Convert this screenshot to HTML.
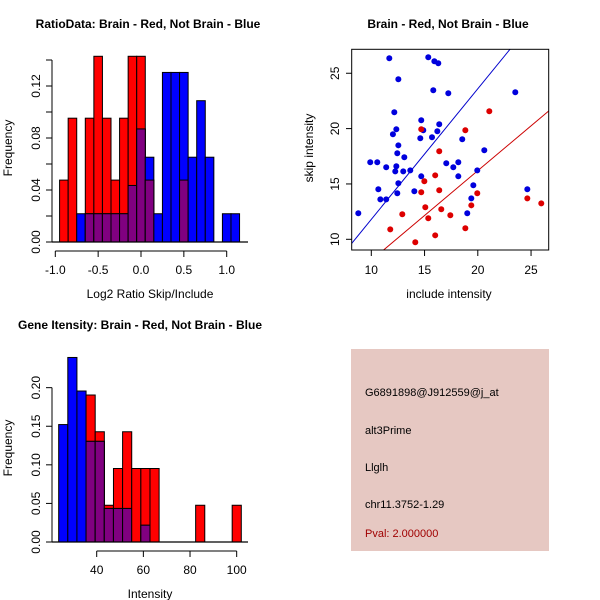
<!DOCTYPE html>
<html><head><meta charset="utf-8"><style>
body{margin:0;background:#fff}
svg{display:block;font-family:"Liberation Sans",Arial,sans-serif}
</style></head><body>
<svg id="s" width="600" height="600" viewBox="0 0 600 600">
<rect width="600" height="600" fill="#fff"/>
<g>
<rect x="351" y="349" width="198" height="202" fill="#e6c8c2"/>
<text x="365" y="396" font-size="11">G6891898@J912559@j_at</text>
<text x="365" y="434" font-size="11">alt3Prime</text>
<text x="365" y="471" font-size="11">Llglh</text>
<text x="365" y="508" font-size="11">chr11.3752-1.29</text>
<text x="365" y="537" font-size="11" fill="#a00000">Pval: 2.000000</text>
</g>
</svg>
<script>
// ---- Ratio histogram data ----
const ratioBinStart = [-0.95,-0.85,-0.75,-0.65,-0.55,-0.45,-0.35,-0.25,-0.15,-0.05,0.05,0.15,0.25,0.35,0.45,0.55,0.65,0.75,0.85,0.95,1.05];
const ratioRed  = [1/21,2/21,0,2/21,3/21,2/21,1/21,2/21,3/21,3/21,1/21,0,0,0,1/21,0,0,0,0,0,0];
const ratioBlue = [0,0,1/46,1/46,1/46,1/46,1/46,1/46,2/46,4/46,3/46,1/46,6/46,6/46,6/46,3/46,5/46,3/46,0,1/46,1/46];
const ratioXTicks = [-1,-0.5,0,0.5,1];
const ratioXLabels = ["-1.0","-0.5","0.0","0.5","1.0"];
const ratioYTicks = [0,0.02,0.04,0.06,0.08,0.10,0.12,0.14];
const ratioYLabels = ["0.00","","0.04","","0.08","","0.12",""];
// ---- Intensity histogram data ----
const intBinStart = [23.7,27.614,31.528,35.442,39.356,43.27,47.184,51.098,55.012,58.926,62.84,66.754,70.668,74.582,78.496,82.41,86.324,90.238,94.152,98.066];
const intRed  = [0,0,0,4/21,3/21,1/21,2/21,3/21,2/21,2/21,2/21,0,0,0,0,1/21,0,0,0,1/21];
const intBlue = [7/46,11/46,9/46,6/46,6/46,2/46,2/46,2/46,0,1/46,0,0,0,0,0,0,0,0,0,0];
const intXTicks = [40,60,80,100];
const intYTicks = [0,0.05,0.10,0.15,0.20];
const intYLabels = ["0.00","0.05","0.10","0.15","0.20"];
// ---- Scatter data ----
const blueX = [8.78,11.69,15.35,15.92,16.29,12.54,15.82,17.23,23.52,12.16,14.69,12.03,12.35,14.88,16.38,16.2,14.6,15.7,18.54,12.54,12.44,13.1,9.9,10.56,11.4,12.35,12.25,13.0,13.66,17.04,17.7,18.17,20.61,19.95,14.69,18.17,12.54,19.58,10.66,14.04,12.44,10.85,11.4,19.39,19.01,24.65];
const blueY = [12.35,26.36,26.45,26.08,25.9,24.46,23.46,23.19,23.28,21.48,20.75,19.49,19.94,19.85,20.39,19.76,19.13,19.22,19.04,18.49,17.77,17.41,16.96,16.96,16.51,16.6,16.14,16.14,16.23,16.87,16.51,16.96,18.04,16.23,15.69,15.69,15.06,14.88,14.52,14.34,14.16,13.61,13.61,13.7,12.35,14.52];
const redX = [14.69,18.83,21.08,16.38,16.0,14.98,14.69,16.38,19.95,19.39,15.07,16.57,12.91,17.42,15.35,18.83,11.78,16.0,14.13,24.65,25.96];
const redY = [19.94,19.85,21.57,17.95,15.78,15.24,14.25,14.43,14.16,13.07,12.89,12.71,12.26,12.17,11.9,11.0,10.9,10.36,9.73,13.7,13.25];
const lineSlopes = [1.18,0.81];
const scTicks = [10,15,20,25];

const NS="http://www.w3.org/2000/svg", svg=document.getElementById('s');
function el(tag,attrs,parent,txt){const e=document.createElementNS(NS,tag);for(const k in attrs)e.setAttribute(k,attrs[k]);if(txt!==undefined)e.textContent=txt;(parent||svg).appendChild(e);return e;}
function grp(name){const g=el('g',{});


return g;}

function hist(name,x0,xpx,y0,ypx,starts,w,red,blue){
  const g=grp(name);
  const X=v=>x0+(v)*xpx, Y=v=>y0-v*ypx;
  starts.forEach((s,i)=>{
    const r=red[i],b=blue[i],m=Math.min(r,b);
    if(r>0){const e=el('rect',{x:X(s),y:Y(r),width:w*xpx,height:r*ypx,fill:'#ff0000',stroke:'#000','stroke-width':1},g);
      
      }
    if(b>0){const e=el('rect',{x:X(s),y:Y(b),width:w*xpx,height:b*ypx,fill:'#0000ff',stroke:'#000','stroke-width':1},g);
      
      }
    if(m>0){const e=el('rect',{x:X(s),y:Y(m),width:w*xpx,height:m*ypx,fill:'#800080',stroke:'#000','stroke-width':1},g);
      
      }
  });
  return {X,Y};
}
function yaxis(name,ax,Y,ticks,labels){
  const g=grp(name);
  el('line',{x1:ax,x2:ax,y1:Y(ticks[0]),y2:Y(ticks[ticks.length-1]),stroke:'#000'},g);
  ticks.forEach((t,i)=>{el('line',{x1:ax-6,x2:ax,y1:Y(t),y2:Y(t),stroke:'#000'},g);
    if(labels[i]){const y=Y(t);el('text',{x:ax-12,y:y,'font-size':12,'text-anchor':'middle',transform:`rotate(-90 ${ax-12} ${y})`},g,labels[i]);}});
}
function xaxis(name,ay,X,ticks,labels){
  const g=grp(name);
  el('line',{x1:X(ticks[0]),x2:X(ticks[ticks.length-1]),y1:ay,y2:ay,stroke:'#000'},g);
  ticks.forEach((t,i)=>{el('line',{x1:X(t),x2:X(t),y1:ay,y2:ay+6,stroke:'#000'},g);
    el('text',{x:X(t),y:ay+23,'font-size':12,'text-anchor':'middle'},g,labels[i]);});
}
function label(name,x,y,txt,opts){const e=el('text',Object.assign({x:x,y:y,'font-size':12,'text-anchor':'middle'},opts||{}),svg,txt);
  
  }

// Ratio histogram
{const xpx=85.7, x0=55.3+xpx; // value 0 at x0
 const r=hist('ratio-histogram',x0,xpx,242,1300,ratioBinStart,0.1,ratioRed,ratioBlue);
 el('line',{x1:52,x2:248,y1:242,y2:242,stroke:'#000','stroke-width':1.3});
 yaxis('ratio-y-axis',52,r.Y,ratioYTicks,ratioYLabels);
 xaxis('ratio-x-axis',251,r.X,ratioXTicks,ratioXLabels);
 label('ratio-title',148,28,'RatioData: Brain - Red, Not Brain - Blue',{'font-weight':'bold'});
 label('ratio-x-title',150,298,'Log2 Ratio Skip/Include');
 label('ratio-y-title',12,148,'Frequency',{transform:'rotate(-90 12 148)'});
}
// Intensity histogram
{const xpx=2.333, x0=96.7-40*xpx;
 const r=hist('intensity-histogram',x0,xpx,542,771.7,intBinStart,3.914,intRed,intBlue);
 el('line',{x1:52,x2:248,y1:542,y2:542,stroke:'#000','stroke-width':1.3});
 yaxis('intensity-y-axis',52,r.Y,intYTicks,intYLabels);
 xaxis('intensity-x-axis',551,r.X,intXTicks,intXTicks.map(String));
 label('intensity-title',140,329,'Gene Itensity: Brain - Red, Not Brain - Blue',{'font-weight':'bold'});
 label('intensity-x-title',150,598,'Intensity');
 label('intensity-y-title',12,448,'Frequency',{transform:'rotate(-90 12 448)'});
}
// Scatter
{const X=v=>371.3+(v-10)*10.65, Y=v=>239.3-(v-10)*11.07;
 const g=grp('scatter-plot');
 const cp=el('clipPath',{id:'cp'},g);el('rect',{x:352,y:49,width:197,height:201},cp);
 const xmin=8.16,xmax=26.66;
 const lc=['#0000cc','#cc0000'];
 lineSlopes.forEach((s,i)=>{const e=el('line',{x1:X(xmin),y1:Y(s*xmin),x2:X(xmax),y2:Y(s*xmax),stroke:lc[i],'stroke-width':1,'clip-path':'url(#cp)'},g);
   
   });
 blueX.forEach((x,i)=>{const e=el('circle',{cx:X(x),cy:Y(blueY[i]),r:3,fill:'#0000dd'},g);
   
   });
 redX.forEach((x,i)=>{const e=el('circle',{cx:X(x),cy:Y(redY[i]),r:3,fill:'#dd0000'},g);
   
   });
 el('rect',{x:351.7,y:49.3,width:197,height:200.7,fill:'none',stroke:'#000'},g);
 const ax=grp('scatter-axes');
 scTicks.forEach(t=>{el('line',{x1:X(t),x2:X(t),y1:250,y2:256,stroke:'#000'},ax);
   el('text',{x:X(t),y:274,'font-size':12,'text-anchor':'middle'},ax,String(t));
   el('line',{x1:346,x2:351.7,y1:Y(t),y2:Y(t),stroke:'#000'},ax);
   el('text',{x:339,y:Y(t),'font-size':12,'text-anchor':'middle',transform:`rotate(-90 339 ${Y(t)})`},ax,String(t));});
 label('scatter-title',448,28,'Brain - Red, Not Brain - Blue',{'font-weight':'bold'});
 label('scatter-x-title',449,298,'include intensity');
 label('scatter-y-title',313,148,'skip intensity',{transform:'rotate(-90 313 148)'});
}
</script>
</body></html>
